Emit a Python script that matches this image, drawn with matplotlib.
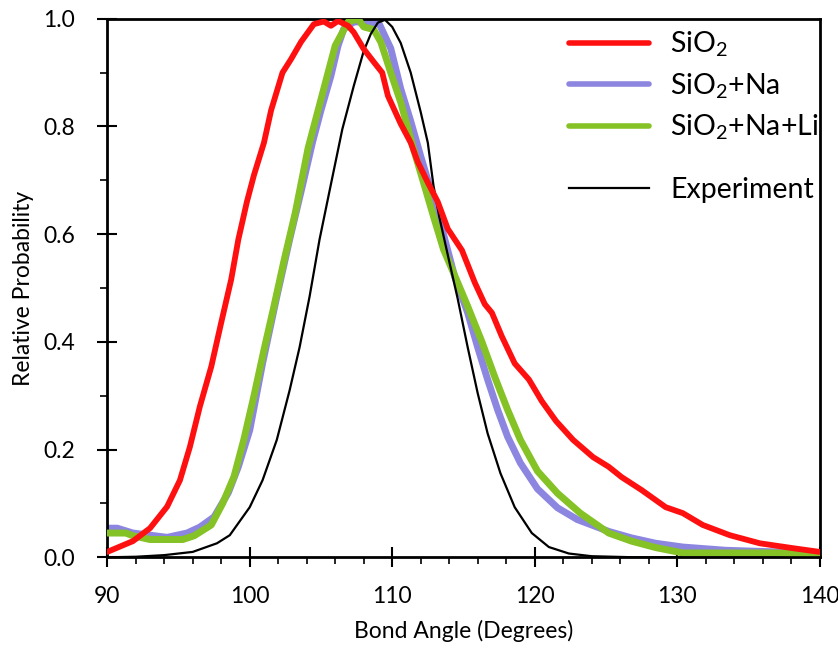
import numpy as np
import matplotlib
matplotlib.use("Agg")
import matplotlib.pyplot as plt

plt.rcParams['font.family'] = ['Lato', 'DejaVu Sans']
plt.rcParams['mathtext.fontset'] = 'custom'
plt.rcParams['mathtext.rm'] = 'Lato'
plt.rcParams['mathtext.it'] = 'Lato:italic'

# --- data (bond angle in degrees, relative probability) ---
sio2_x = [90, 91.8, 93.0, 94.2, 95.1, 95.8, 96.5, 97.3, 98.0, 98.7, 99.2, 99.8, 100.3, 101.0,
          101.5, 102.3, 102.9, 103.6, 104.5, 105.2, 105.7, 106.2, 106.9, 107.3, 108.0, 108.7,
          109.3, 109.7, 110.6, 111.3, 111.8, 112.5, 113.2, 113.9, 114.9, 115.8, 116.5, 117.0,
          117.7, 118.6, 119.6, 120.5, 121.5, 122.7, 124.1, 125.2, 126.1, 127.5, 129.2, 130.4,
          131.8, 133.7, 135.8, 138.1, 140]
sio2_y = [0.01, 0.03, 0.054, 0.094, 0.143, 0.205, 0.28, 0.354, 0.436, 0.516, 0.59, 0.66, 0.71,
          0.77, 0.83, 0.90, 0.925, 0.957, 0.99, 0.995, 0.987, 0.996, 0.987, 0.975, 0.944, 0.92,
          0.9, 0.857, 0.805, 0.77, 0.734, 0.696, 0.66, 0.61, 0.57, 0.51, 0.47, 0.454, 0.41, 0.36,
          0.33, 0.29, 0.253, 0.218, 0.186, 0.168, 0.149, 0.125, 0.093, 0.082, 0.06, 0.041, 0.026,
          0.017, 0.01]

na_x = [90, 90.7, 91.8, 93.0, 94.2, 95.6, 96.5, 97.5, 98.5, 99.2, 100.0, 100.9, 101.9, 102.8,
        103.7, 104.4, 105.0, 105.7, 106.2, 106.6, 107.3, 108.2, 109.1, 109.9, 110.6, 111.3,
        112.0, 112.7, 113.4, 114.4, 115.3, 116.0, 116.7, 117.4, 118.1, 119.0, 120.2, 121.6,
        123.0, 125.2, 126.8, 128.5, 130.4, 133.4, 136.9, 140]
na_y = [0.054, 0.054, 0.045, 0.041, 0.037, 0.045, 0.056, 0.075, 0.12, 0.168, 0.236, 0.36,
        0.484, 0.59, 0.69, 0.77, 0.83, 0.894, 0.95, 0.981, 0.994, 0.995, 0.99, 0.945, 0.87,
        0.81, 0.745, 0.683, 0.62, 0.52, 0.454, 0.39, 0.33, 0.274, 0.224, 0.175, 0.127, 0.092,
        0.07, 0.048, 0.036, 0.026, 0.019, 0.013, 0.01, 0.006]

nali_x = [90, 91.3, 91.8, 93.0, 95.3, 96.1, 97.3, 98.1, 98.9, 99.6, 100.3, 101.0, 101.7, 102.4,
          103.2, 104.1, 105.0, 106.0, 106.9, 107.6, 108.0, 108.7, 109.2, 109.9, 110.6, 111.5,
          112.2, 112.9, 113.6, 114.6, 115.3, 116.3, 117.2, 118.1, 119.0, 120.2, 121.6, 123.2,
          125.2, 126.8, 128.5, 130.4, 133.4, 136.9, 140]
nali_y = [0.045, 0.045, 0.04, 0.033, 0.033, 0.04, 0.06, 0.1, 0.15, 0.22, 0.30, 0.385, 0.466,
          0.55, 0.64, 0.76, 0.85, 0.95, 0.994, 1.0, 0.985, 0.98, 0.957, 0.9, 0.845, 0.758, 0.696,
          0.633, 0.572, 0.51, 0.466, 0.40, 0.335, 0.274, 0.218, 0.16, 0.119, 0.082, 0.045, 0.03,
          0.018, 0.008, 0.008, 0.008, 0.005]

exp_x = [90, 92, 94, 96, 97.7, 98.6, 100.0, 100.9, 101.9, 102.8, 103.5, 104.2, 104.9, 105.6,
         106.5, 107.3, 108.0, 108.5, 109.0, 109.5, 110.0, 110.6, 111.3, 112.0, 112.5, 112.9,
         113.3, 114.0, 114.6, 115.3, 116.0, 116.7, 117.6, 118.6, 119.8, 121.0, 122.4, 124.0,
         127.0, 140]
exp_y = [0, 0.001, 0.004, 0.01, 0.026, 0.041, 0.093, 0.143, 0.218, 0.31, 0.39, 0.484, 0.59,
         0.68, 0.795, 0.875, 0.94, 0.972, 0.993, 0.998, 0.985, 0.955, 0.90, 0.827, 0.77, 0.69,
         0.633, 0.55, 0.48, 0.39, 0.305, 0.23, 0.156, 0.093, 0.045, 0.019, 0.007, 0.002, 0, 0]

RED, BLUE, GREEN = '#ff1010', '#8c86e0', '#84c225'

fig = plt.figure(figsize=(8.38, 6.48), dpi=100, facecolor='white')
ax = fig.add_axes([0.128, 0.140, 0.850, 0.831])

l_na, = ax.plot(na_x, na_y, color=BLUE, lw=5, solid_capstyle='round', zorder=2)
l_nali, = ax.plot(nali_x, nali_y, color=GREEN, lw=5, solid_capstyle='round', zorder=3)
l_exp, = ax.plot(exp_x, exp_y, color='black', lw=1.6, zorder=4)
l_sio2, = ax.plot(sio2_x, sio2_y, color=RED, lw=4.2, solid_capstyle='round', zorder=5)

ax.set_xlim(90, 140); ax.set_ylim(0, 1.0)
ax.set_xticks(np.arange(90, 141, 10)); ax.set_xticks(np.arange(90, 141, 2), minor=True)
ax.set_yticks(np.arange(0, 1.01, 0.2)); ax.set_yticks(np.arange(0, 1.01, 0.1), minor=True)
ax.set_yticklabels([f"{v:.1f}" for v in np.arange(0, 1.01, 0.2)])
ax.tick_params(which='major', direction='inout', length=14, width=1.5, labelsize=16.5)
ax.tick_params(axis='x', which='major', pad=14)
ax.tick_params(axis='y', which='major', pad=16)
ax.tick_params(which='minor', direction='out', length=5, width=1.2)
for s in ax.spines.values():
    s.set_linewidth(2)
ax.set_xlabel("Bond Angle (Degrees)", fontsize=16.5, labelpad=9)
ax.set_ylabel("Relative Probability", fontsize=16.5, labelpad=7)

leg_kw = dict(loc='upper left', frameon=False, fontsize=20.5, handlelength=2.8,
              handletextpad=0.75, borderpad=0, borderaxespad=0)
leg1 = ax.legend([l_sio2, l_na, l_nali], ["SiO$_2$", "SiO$_2$+Na", "SiO$_2$+Na+Li"],
                 bbox_to_anchor=(0.648, 0.98), labelspacing=0.42, **leg_kw)
for h in leg1.get_lines():
    h.set_linewidth(4)
ax.add_artist(leg1)
ax.legend([l_exp], ["Experiment"], bbox_to_anchor=(0.648, 0.707), **leg_kw)

plt.savefig("out.png", dpi=100, facecolor='white')
